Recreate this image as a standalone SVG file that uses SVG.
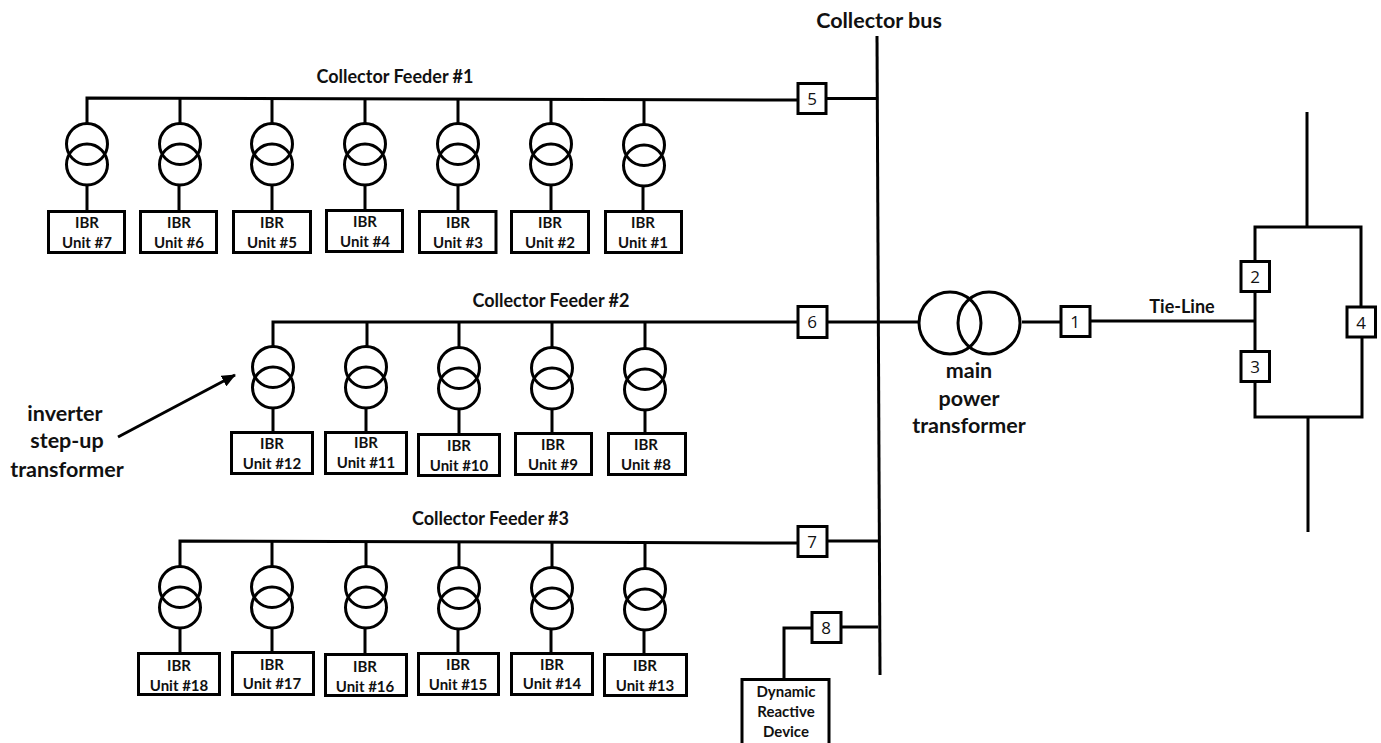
<svg xmlns="http://www.w3.org/2000/svg" width="1381" height="743" viewBox="0 0 1381 743">
<defs>
<marker id="arr" markerUnits="userSpaceOnUse" markerWidth="14" markerHeight="12" refX="13" refY="6" orient="auto"><path d="M0 0L14 6L0 12Z" fill="#000"/></marker>
<g id="xf"><circle class="c" cx="0" cy="0" r="20.500"/><circle class="c" cx="0" cy="20.500" r="20.500"/></g>
</defs>
<style>
text{font-family:Lato,"Liberation Sans",sans-serif;font-weight:700;fill:#111;text-anchor:middle}
.u{font-size:15px}
.f{font-size:18px}
.l{font-size:21.500px}
.n{font-size:17px;font-weight:400;font-family:"Open Sans",sans-serif}
.w{fill:none;stroke:#000;stroke-width:3}
.b{fill:#fff;stroke:#000;stroke-width:3}
.c{fill:none;stroke:#000;stroke-width:3}
</style>
<rect width="1381" height="743" fill="#fff"/>
<g id="connectors" class="w">
<path class="w" d="M877 36L880 675"/>
<path class="w" d="M87 124V98L797 100M827 98.500H877"/>
<path class="w" d="M180 98V124M272 98V124M365 99V124M458 99V124M551 99V124M644 100V125"/>
<path class="w" d="M87 185V210M179 185V210M272 185V210M365 185V209M458 185V210M551 185V210M643 186V210"/>
<path class="w" d="M273 347V322H797M827 322H918M1022 322H1061M1090 321H1255"/>
<path class="w" d="M367 322V347M459 322V347M552 322V347M645 322V348"/>
<path class="w" d="M273 409V432M366 409V431M459 409V433M552 409V432M645 410V432"/>
<path class="w" d="M180 566V541L797 543M827 541H878"/>
<path class="w" d="M272 541V566M366 541V566M459 541V567M552 542V567M645 543V568"/>
<path class="w" d="M180 628V652M272 628V651M365 628V653M458 629V652M551 629V652M644 630V653"/>
<path class="w" d="M841 627H878M812 628H784V680"/>
<path class="w" d="M1307 112V227M1255 321V227H1361V307M1362 337V417H1255V321M1308 417V532"/>
<path class="w" d="M118 437L235 375" marker-end="url(#arr)"/>
</g>
<g id="xf1"><use href="#xf" x="87" y="144"/><use href="#xf" x="180" y="144"/><use href="#xf" x="272" y="144"/><use href="#xf" x="365" y="144"/><use href="#xf" x="458" y="144"/><use href="#xf" x="551" y="144"/><use href="#xf" x="644" y="145"/></g>
<g id="xf2"><use href="#xf" x="273" y="367"/><use href="#xf" x="366" y="367"/><use href="#xf" x="459" y="368"/><use href="#xf" x="552" y="368"/><use href="#xf" x="645" y="369"/></g>
<g id="xf3"><use href="#xf" x="180" y="587"/><use href="#xf" x="272" y="587"/><use href="#xf" x="366" y="587"/><use href="#xf" x="459" y="588"/><use href="#xf" x="552" y="588"/><use href="#xf" x="645" y="589"/></g>
<g id="mpt"><circle class="c" cx="950" cy="323" r="31"/><circle class="c" cx="989" cy="323" r="31"/></g>
<g id="unit7"><rect class="b" x="48.500" y="211.500" width="76" height="41"/><text class="u" x="87" y="228">IBR</text><text class="u" x="87" y="248">Unit #7</text></g>
<g id="unit6"><rect class="b" x="140.500" y="211.500" width="76" height="41"/><text class="u" x="179" y="228">IBR</text><text class="u" x="179" y="248">Unit #6</text></g>
<g id="unit5"><rect class="b" x="233.500" y="211.500" width="77" height="41"/><text class="u" x="272" y="228">IBR</text><text class="u" x="272" y="248">Unit #5</text></g>
<g id="unit4"><rect class="b" x="326.500" y="210.500" width="76" height="41"/><text class="u" x="365" y="227">IBR</text><text class="u" x="365" y="247">Unit #4</text></g>
<g id="unit3"><rect class="b" x="419.500" y="211.500" width="76.500" height="41"/><text class="u" x="458" y="228">IBR</text><text class="u" x="458" y="248">Unit #3</text></g>
<g id="unit2"><rect class="b" x="511.500" y="211.500" width="77" height="41"/><text class="u" x="550" y="228">IBR</text><text class="u" x="550" y="248">Unit #2</text></g>
<g id="unit1"><rect class="b" x="605.500" y="211.500" width="76" height="41"/><text class="u" x="643" y="228">IBR</text><text class="u" x="643" y="248">Unit #1</text></g>
<g id="unit12"><rect class="b" x="231.500" y="432.500" width="81" height="41"/><text class="u" x="272" y="449">IBR</text><text class="u" x="272" y="469">Unit #12</text></g>
<g id="unit11"><rect class="b" x="325.500" y="432.500" width="81" height="41"/><text class="u" x="366" y="448">IBR</text><text class="u" x="366" y="468">Unit #11</text></g>
<g id="unit10"><rect class="b" x="418.500" y="434.500" width="81" height="41"/><text class="u" x="459" y="451">IBR</text><text class="u" x="459" y="471">Unit #10</text></g>
<g id="unit9"><rect class="b" x="515.500" y="433.500" width="76" height="41"/><text class="u" x="553" y="450">IBR</text><text class="u" x="553" y="470">Unit #9</text></g>
<g id="unit8"><rect class="b" x="608.500" y="433.500" width="77" height="41"/><text class="u" x="646" y="450">IBR</text><text class="u" x="646" y="470">Unit #8</text></g>
<g id="unit18"><rect class="b" x="138.500" y="653.500" width="81" height="41"/><text class="u" x="179" y="671">IBR</text><text class="u" x="179" y="691">Unit #18</text></g>
<g id="unit17"><rect class="b" x="232.500" y="652.500" width="81" height="42"/><text class="u" x="272" y="670">IBR</text><text class="u" x="272" y="689">Unit #17</text></g>
<g id="unit16"><rect class="b" x="325.500" y="654.500" width="81" height="41"/><text class="u" x="365" y="672">IBR</text><text class="u" x="365" y="692">Unit #16</text></g>
<g id="unit15"><rect class="b" x="418.500" y="653.500" width="80" height="41"/><text class="u" x="458" y="670">IBR</text><text class="u" x="458" y="690">Unit #15</text></g>
<g id="unit14"><rect class="b" x="511.500" y="653.500" width="81" height="41"/><text class="u" x="552" y="670">IBR</text><text class="u" x="552" y="689">Unit #14</text></g>
<g id="unit13"><rect class="b" x="604.500" y="654.500" width="82" height="41"/><text class="u" x="645" y="671">IBR</text><text class="u" x="645" y="691">Unit #13</text></g>
<g id="dyn"><rect class="b" x="742" y="679.500" width="87" height="65"/><text class="u" x="786" y="697">Dynamic</text><text class="u" x="786" y="717">Reactive</text><text class="u" x="786" y="737">Device</text></g>
<g id="b5"><rect class="b" x="798" y="83.500" width="28" height="30"/><text class="n" x="812" y="105">5</text></g>
<g id="b6"><rect class="b" x="798" y="306.500" width="29" height="31"/><text class="n" x="812" y="328">6</text></g>
<g id="b7"><rect class="b" x="798" y="526.500" width="29" height="30"/><text class="n" x="812" y="548">7</text></g>
<g id="b8"><rect class="b" x="812" y="612.500" width="29" height="30"/><text class="n" x="826" y="634">8</text></g>
<g id="b1"><rect class="b" x="1061" y="306.500" width="29" height="30"/><text class="n" x="1075" y="328">1</text></g>
<g id="b2"><rect class="b" x="1241" y="261.500" width="28.500" height="30"/><text class="n" x="1255" y="283">2</text></g>
<g id="b3"><rect class="b" x="1241" y="351.500" width="28.500" height="30"/><text class="n" x="1255" y="373">3</text></g>
<g id="b4"><rect class="b" x="1347" y="307" width="28.500" height="30"/><text class="n" x="1361" y="329">4</text></g>
<g id="labels">
<text class="l" x="879" y="28">Collector bus</text>
<text class="f" x="395" y="83">Collector Feeder #1</text>
<text class="f" x="551" y="307">Collector Feeder #2</text>
<text class="f" x="490.500" y="525">Collector Feeder #3</text>
<text class="f" x="1182" y="313">Tie-Line</text>
<text class="l" x="969" y="378">main</text>
<text class="l" x="969" y="406">power</text>
<text class="l" x="969" y="433">transformer</text>
<text class="l" x="65" y="421">inverter</text>
<text class="l" x="67" y="448">step-up</text>
<text class="l" x="67" y="477">transformer</text>
</g>
</svg>
